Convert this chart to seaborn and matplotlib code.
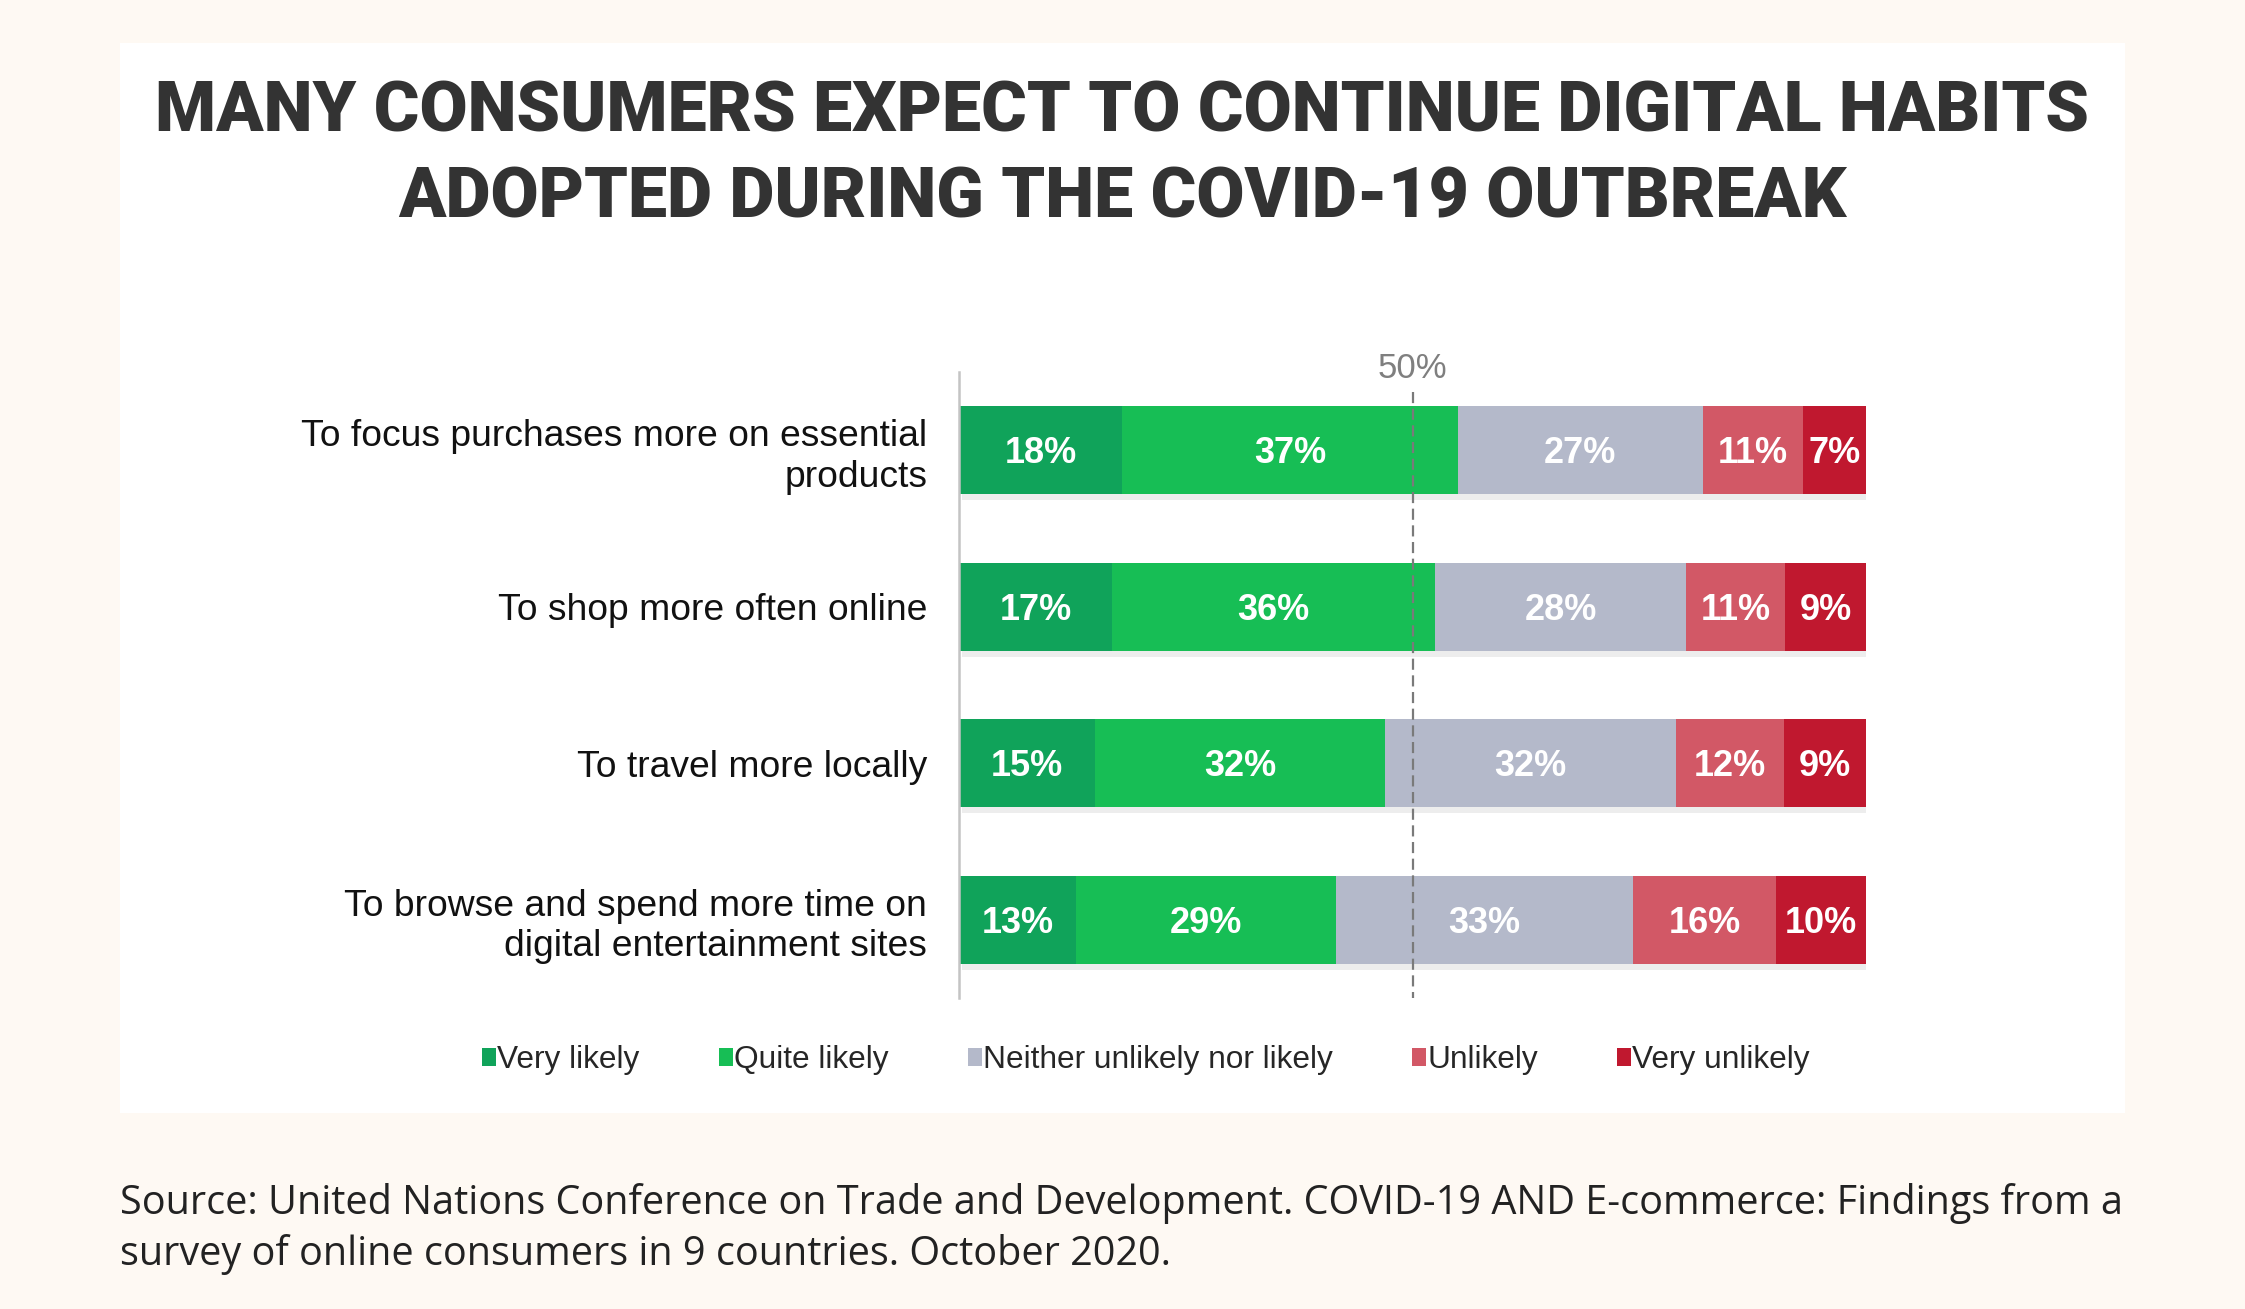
import numpy as np
import pandas as pd
import matplotlib
matplotlib.use('Agg')
import matplotlib.pyplot as plt
import matplotlib.font_manager as fm
from matplotlib.patches import Patch, Rectangle
from matplotlib import patheffects as pe
import seaborn as sns

sns.set_style('white')

# data
categories = ['To focus purchases more on essential\nproducts',
              'To shop more often online',
              'To travel more locally',
              'To browse and spend more time on\ndigital entertainment sites']
very_likely = [18, 17, 15, 13]
quite_likely = [37, 36, 32, 29]
neither = [27, 28, 32, 33]
unlikely = [11, 11, 12, 16]
very_unlikely = [7, 9, 9, 10]

answers = ['Very likely', 'Quite likely', 'Neither unlikely nor likely',
           'Unlikely', 'Very unlikely']
colors = ['#10A35A', '#17BE55', '#B4B9CA', '#D25866', '#C0182F']

df = pd.DataFrame({'Very likely': very_likely,
                   'Quite likely': quite_likely,
                   'Neither unlikely nor likely': neither,
                   'Unlikely': unlikely,
                   'Very unlikely': very_unlikely}, index=categories)

# bars are drawn as share of the row total so they all end at 100
share = df.div(df.sum(axis=1), axis=0) * 100
cum = share.cumsum(axis=1)

names = {f.name for f in fm.fontManager.ttflist}
narrow = 'Liberation Sans Narrow' if 'Liberation Sans Narrow' in names else 'Liberation Sans'
plt.rcParams['font.family'] = ['Liberation Sans', 'DejaVu Sans']

bg = '#FEF9F3'
fig = plt.figure(figsize=(22.45, 13.09), dpi=100, facecolor=bg)
fig.patches.append(Rectangle((0.0535, 0.1497), 0.893, 0.8174,
                             transform=fig.transFigure, facecolor='white',
                             edgecolor='none', zorder=-1))

ax = fig.add_axes([0.4272, 0.2376, 0.4040, 0.4782])
ax.set_facecolor('none')

# stacked bars: draw cumulative totals from the longest to the shortest
for i in range(len(answers) - 1, -1, -1):
    col = answers[i]
    plot_df = pd.DataFrame({'cat': categories, 'val': cum[col].values})
    sns.barplot(data=plot_df, x='val', y='cat', orient='h', color=colors[i],
                width=0.565, errorbar=None, saturation=1, linewidth=0,
                ax=ax, zorder=2)

for bar in ax.containers[0]:
    bar.set_path_effects([pe.SimplePatchShadow(offset=(2, -4), shadow_rgbFace='black',
                                               alpha=0.07), pe.Normal()])

# value labels
for r, cat in enumerate(categories):
    for i, col in enumerate(answers):
        center = cum.loc[cat, col] - share.loc[cat, col] / 2
        ax.text(center, r + 0.083, f'{df.loc[cat, col]}%', ha='center',
                va='baseline', color='white', fontsize=26, fontweight='bold',
                family=narrow, zorder=4)

ax.vlines(50, -0.37, 3.52, colors='#7A7A7A', linestyles=(0, (5, 2.5)),
          linewidth=1.6, zorder=5)
ax.text(50, -0.52, '50%', ha='center', va='center', color='#7F7F7F',
        fontsize=25, family=narrow)

ax.set_xlim(0, 100)
ax.set_ylim(3.5, -0.5)
ax.set_xlabel('')
ax.set_ylabel('')
ax.set_xticks([])
ax.set_yticks(range(len(categories)))
ax.set_yticklabels(categories, fontsize=26.8, color='#111111')
ax.tick_params(axis='y', length=0, pad=23)
for s in ['top', 'right', 'bottom']:
    ax.spines[s].set_visible(False)
ax.spines['left'].set_color('#C4C4C4')
ax.spines['left'].set_linewidth(1.8)

# title
fig.text(0.4998, 0.8992, 'MANY CONSUMERS EXPECT TO CONTINUE DIGITAL HABITS',
         ha='center', va='baseline', fontsize=50.2, fontweight='heavy',
         family='Roboto', color='#333333')
fig.text(0.4998, 0.834, 'ADOPTED DURING THE COVID-19 OUTBREAK',
         ha='center', va='baseline', fontsize=50.2, fontweight='heavy',
         family='Roboto', color='#333333')

# legend
handles = [Patch(facecolor=c, edgecolor='none') for c in colors]
fig.legend(handles, answers, loc='center', bbox_to_anchor=(0.5105, 0.190),
           ncol=5, frameon=False, handlelength=0.45, handleheight=0.5,
           handletextpad=0.03, columnspacing=2.5,
           prop={'family': narrow, 'size': 22.8})

# source note
fig.text(0.0535, 0.0726,
         'Source: United Nations Conference on Trade and Development. '
         'COVID-19 AND E-commerce: Findings from a',
         ha='left', va='baseline', fontsize=28.5, family='Open Sans',
         color='#222222')
fig.text(0.0535, 0.0336,
         'survey of online consumers in 9 countries. October 2020.',
         ha='left', va='baseline', fontsize=28.5, family='Open Sans',
         color='#222222')

fig.savefig('out.png', dpi=100, facecolor=bg)
